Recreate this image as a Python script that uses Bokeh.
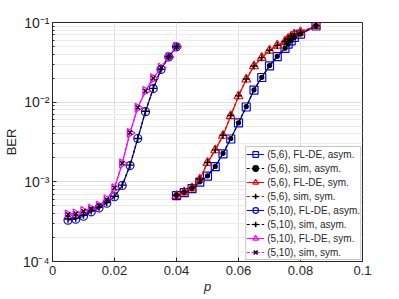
import numpy as np
from bokeh.plotting import figure
from bokeh.models import FixedTicker, Legend, LegendItem, Range1d
from bokeh.embed import file_html
from bokeh.resources import INLINE

# ---------------- data ----------------
p_56 = [0.04, 0.0425, 0.045, 0.0475, 0.05, 0.0525, 0.055, 0.0575, 0.06, 0.0625,
        0.065, 0.0675, 0.07, 0.0725, 0.075, 0.076, 0.077, 0.078, 0.08, 0.085]
ber_56_flde_asym = [6.7e-4, 7.3e-4, 8.2e-4, 9.9e-4, 1.18e-3, 1.55e-3, 2.25e-3, 3.45e-3, 5.5e-3, 8.7e-3,
                    0.0142, 0.0204, 0.0286, 0.0374, 0.0474, 0.0534, 0.0589, 0.0648, 0.0713, 0.0904]
ber_56_sim_asym = [6.8e-4, 7.4e-4, 8.3e-4, 1.0e-3, 1.19e-3, 1.56e-3, 2.28e-3, 3.5e-3, 5.5e-3, 8.8e-3,
                   0.0143, 0.0205, 0.0288, 0.0376, 0.0476, 0.0536, 0.0590, 0.0650, 0.0715, 0.0905]
ber_56_flde_sym = [6.7e-4, 7.4e-4, 8.3e-4, 1.07e-3, 1.73e-3, 2.5e-3, 3.8e-3, 6.7e-3, 0.0119, 0.0193,
                   0.0283, 0.036, 0.0446, 0.0514, 0.0578, 0.0624, 0.0667, 0.0713, 0.0755, 0.0912]
ber_56_sim_sym = [6.8e-4, 7.5e-4, 8.4e-4, 1.08e-3, 1.75e-3, 2.52e-3, 3.85e-3, 6.8e-3, 0.0120, 0.0195,
                  0.0285, 0.0362, 0.0448, 0.0516, 0.0580, 0.0626, 0.0668, 0.0715, 0.0757, 0.0913]

p_510 = [0.005, 0.0075, 0.01, 0.0125, 0.015, 0.0175, 0.02, 0.0225, 0.025, 0.0275,
         0.03, 0.0325, 0.035, 0.0375, 0.04]
ber_510_flde_asym = [3.3e-4, 3.4e-4, 3.7e-4, 4.2e-4, 4.7e-4, 5.4e-4, 6.5e-4, 9.0e-4, 1.6e-3, 3.5e-3,
                     7.6e-3, 0.0148, 0.0257, 0.037, 0.0495]
ber_510_sim_asym = [3.4e-4, 3.5e-4, 3.8e-4, 4.3e-4, 4.8e-4, 5.5e-4, 6.6e-4, 9.1e-4, 1.62e-3, 3.5e-3,
                    7.7e-3, 0.0149, 0.0258, 0.0372, 0.0497]
ber_510_flde_sym = [3.9e-4, 4.0e-4, 4.3e-4, 4.6e-4, 5.0e-4, 6.0e-4, 8.3e-4, 1.7e-3, 4.1e-3, 8.5e-3,
                    0.0138, 0.0199, 0.027, 0.037, 0.0495]
ber_510_sim_sym = [3.9e-4, 4.0e-4, 4.3e-4, 4.6e-4, 5.0e-4, 6.0e-4, 8.4e-4, 1.72e-3, 4.15e-3, 8.6e-3,
                   0.0139, 0.0200, 0.0272, 0.0372, 0.0497]

x_ticks = [0, 0.02, 0.04, 0.06, 0.08, 0.1]
x_tick_labels = ["0", "0.02", "0.04", "0.06", "0.08", "0.1"]
y_ticks = [1e-4, 1e-3, 1e-2, 1e-1]
y_tick_labels = ["10\u207b\u2074", "10\u207b\u00b3", "10\u207b\u00b2", "10\u207b\u00b9"]

labels = ["(5,6), FL-DE, asym.", "(5,6), sim, asym.", "(5,6), FL-DE, sym.", "(5,6), sim, sym.",
          "(5,10), FL-DE, asym.", "(5,10), sim, asym.", "(5,10), FL-DE, sym.", "(5,10), sim, sym."]

# ---------------- figure ----------------
FONT = "Liberation Sans"
p = figure(frame_width=310, frame_height=239, output_backend="svg", toolbar_location=None,
           x_range=Range1d(0, 0.1), y_range=Range1d(1e-4, 1e-1), y_axis_type="log",
           min_border_left=40, min_border_right=20, min_border_top=22, min_border_bottom=10)
p.outline_line_color = "#262626"
p.outline_line_width = 1
p.background_fill_color = "white"
p.border_fill_color = "white"

minor_y = [k * 10.0 ** e for e in range(-4, -1) for k in range(2, 10)]
yt = FixedTicker(ticks=y_ticks, minor_ticks=minor_y)
xt = FixedTicker(ticks=x_ticks)
p.xaxis.ticker = xt
p.yaxis.ticker = yt
p.xaxis.major_label_overrides = {t: l for t, l in zip(x_ticks, x_tick_labels)}
p.yaxis.major_label_overrides = {t: l for t, l in zip(y_ticks, y_tick_labels)}

for ax in (p.xaxis[0], p.yaxis[0]):
    ax.major_label_text_font = FONT
    ax.major_label_text_color = "#262626"
    ax.axis_line_color = "#262626"
    ax.major_tick_in = 4
    ax.major_tick_out = 0
    ax.minor_tick_in = 2
    ax.minor_tick_out = 0
    ax.major_tick_line_color = "#262626"
    ax.minor_tick_line_color = "#262626"
    ax.axis_label_text_font = FONT
    ax.axis_label_text_font_size = "13px"
    ax.axis_label_text_color = "#262626"

p.xaxis.major_label_text_font_size = "13px"
p.xaxis.major_label_standoff = 4
p.yaxis.major_label_text_font_size = "14px"
p.yaxis.major_label_standoff = 3
p.xaxis.axis_label = "p"
p.xaxis.axis_label_text_font_style = "italic"
p.xaxis.axis_label_standoff = 1
p.yaxis.axis_label = "BER"
p.yaxis.axis_label_text_font_style = "normal"
p.yaxis.axis_label_standoff = 1

p.xgrid.grid_line_color = "#dedede"
p.ygrid.grid_line_color = "#dedede"
p.ygrid.minor_grid_line_color = "#ececec"
p.xgrid.minor_grid_line_color = None

BLUE, RED, MAG, BLK = "#0000ff", "#ff0000", "#ff00ff", "#000000"


def series(x, y, lcolor, dash, marker, mcolor, msize, mlw=1.2, angle=0.0, fill=None):
    lr = p.line(x, y, line_color=lcolor, line_width=1.2, line_dash=dash)
    sr = p.scatter(x, y, marker=marker, size=msize, line_color=mcolor, line_width=mlw,
                   fill_color=fill, angle=angle)
    return [lr, sr]

r1 = series(p_56, ber_56_flde_asym, BLUE, "solid", "square", BLUE, 8)
r3 = series(p_56, ber_56_flde_sym, RED, "solid", "triangle", RED, 9)
r5 = series(p_510, ber_510_flde_asym, BLUE, "solid", "circle", BLUE, 8)
r7 = series(p_510, ber_510_flde_sym, MAG, "solid", "triangle", MAG, 9, angle=-np.pi / 2)
r2 = series(p_56, ber_56_sim_asym, BLK, "3 2", "circle", BLK, 4, fill=BLK)
r4 = series(p_56, ber_56_sim_sym, RED, "3 2", "cross", BLK, 7, mlw=1.4)
r6 = series(p_510, ber_510_sim_asym, BLK, "3 2", "cross", BLK, 7, mlw=1.4)
r8 = series(p_510, ber_510_sim_sym, MAG, "3 2", "x", BLK, 6, mlw=1.4)

items = [LegendItem(label=lab, renderers=rs)
         for lab, rs in zip(labels, [r1, r2, r3, r4, r5, r6, r7, r8])]

leg = Legend(items=items, location="bottom_right", label_text_font=FONT,
             label_text_font_size="10px", label_text_color="#262626",
             glyph_width=18, glyph_height=14, label_height=14, label_standoff=3,
             spacing=0, padding=0, margin=1,
             border_line_color="#8c8c8c", border_line_width=1,
             background_fill_color="white", background_fill_alpha=1.0)
p.add_layout(leg, "center")

open("out.html", "w").write(file_html(p, INLINE))
